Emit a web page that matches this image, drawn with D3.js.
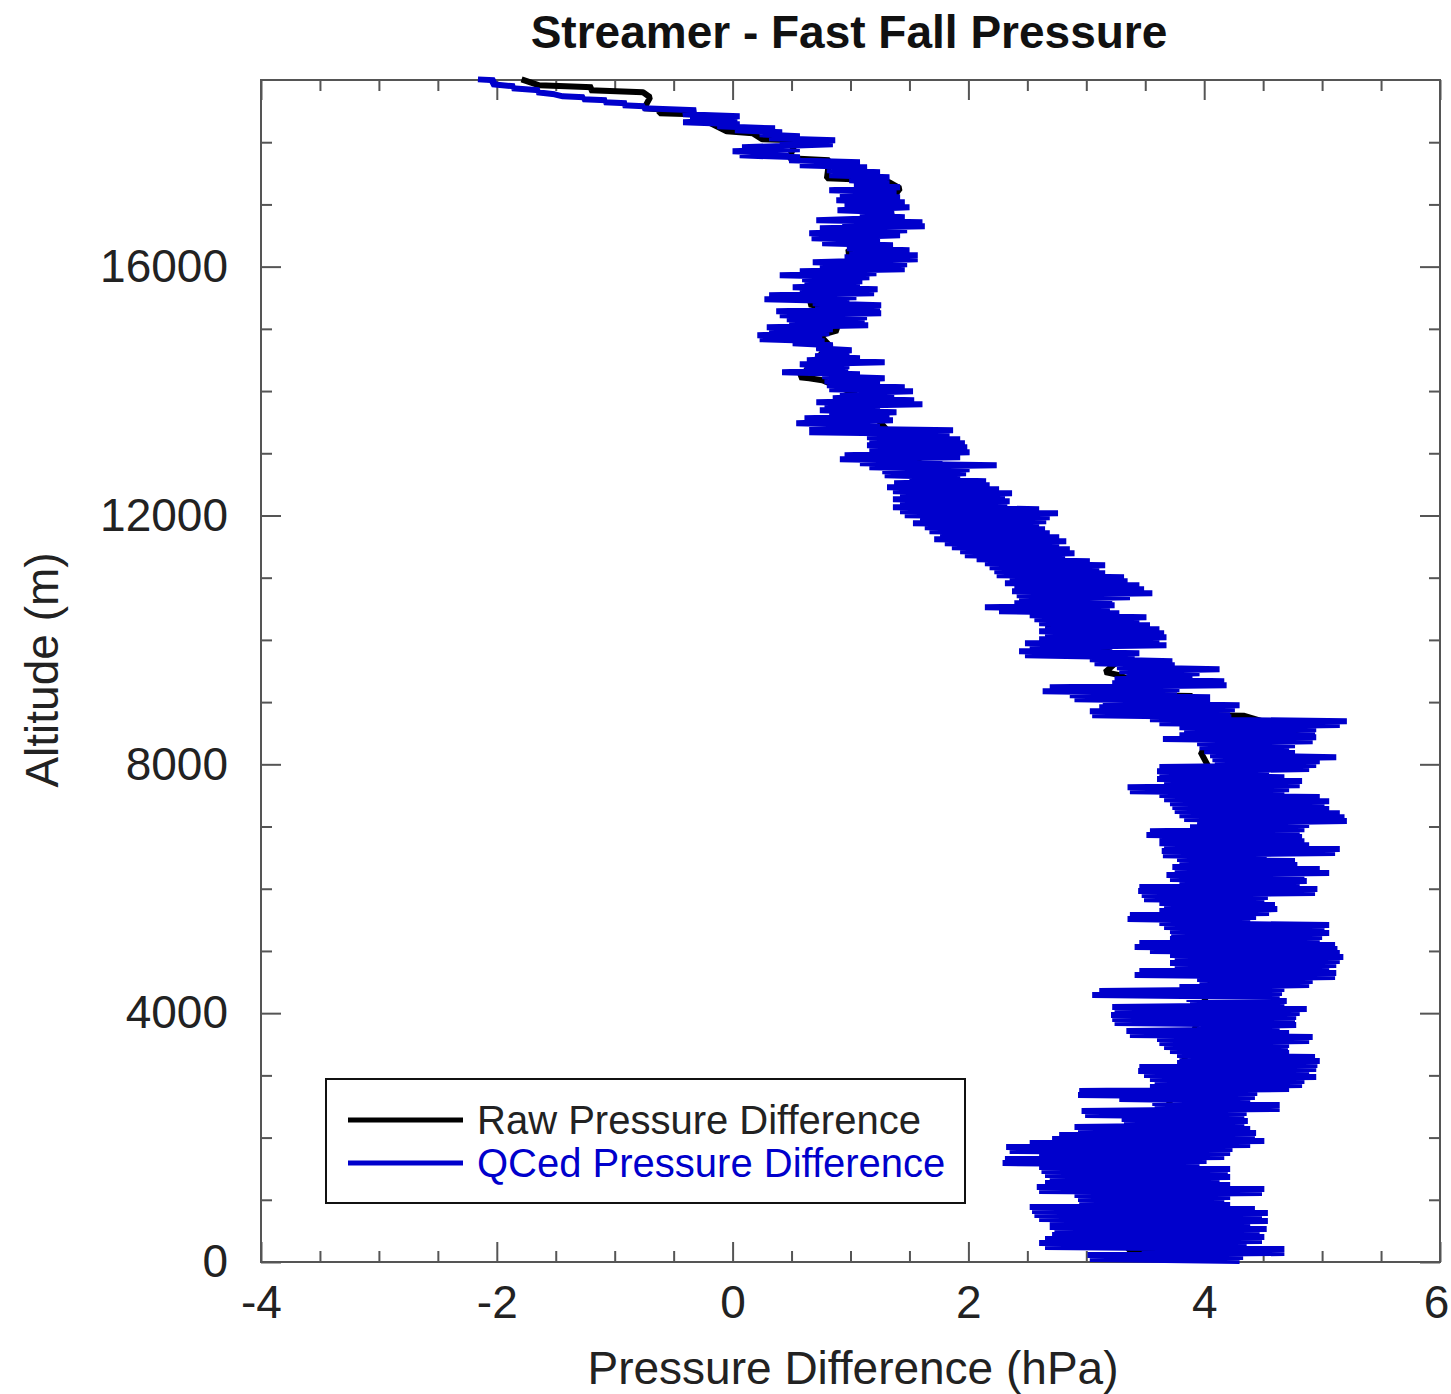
<!DOCTYPE html>
<html>
<head>
<meta charset="utf-8">
<script src="https://cdn.jsdelivr.net/npm/d3@7"></script>
<style>
  body { margin: 0; background: #fff; }
  svg text { font-family: "Liberation Sans", Arial, Helvetica, sans-serif; }
</style>
</head>
<body>
<div id="chart"></div>
<script>
// altitude (m), pressure difference (hPa), QCed profile top to bottom
var qcedProfile = [
  [19010,-2.16],[18995,-2.02],[18930,-2.04],[18898,-1.85],[18866,-1.87],[18834,-1.64],[18802,-1.66],
  [18770,-1.51],[18738,-1.44],[18722,-1.26],[18689,-1.27],[18673,-1.07],[18641,-1.09],[18625,-0.90],
  [18593,-0.93],[18577,-0.75],[18545,-0.76],[18513,-0.31],
  [18448,-0.42],[18416,0.06],[18384,-0.36],[18352,0.04],[18320,-0.42],[18288,0.06],[18255,-0.13],[18223,0.36],
  [18191,0.02],[18159,0.42],[18127,0.23],[18095,0.57],[18063,0.31],[18031,0.87],[17998,0.40],[17966,0.85],
  [17918,0.08],[17886,0.57],[17854,0.00],[17822,0.48],[17789,0.06],[17757,0.57],[17709,0.48],[17677,1.08],
  [17629,0.57],[17597,1.14],[17548,0.80],[17516,1.25],[17468,0.82],[17436,1.33],[17388,0.99],[17356,1.33],
  [17307,1.03],[17275,1.42],[17227,0.82],[17195,1.39],[17147,0.91],[17115,1.42],[17066,0.88],[17034,1.46],
  [16986,0.95],[16954,1.50],[16906,0.89],[16874,1.37],[16825,1.08],[16793,1.46],[16745,0.71],[16713,1.61],
  [16681,0.93],[16649,1.63],[16616,0.74],[16584,1.48],[16536,0.65],[16504,1.42],[16456,0.67],[16424,1.25],
  [16375,0.76],[16343,1.36],[16295,0.97],[16263,1.50],[16215,0.99],[16182,1.57],[16150,0.95],[16118,1.57],
  [16070,0.68],[16038,1.48],[15990,0.74],[15958,1.46],[15925,0.57],[15893,1.22],[15861,0.40],[15829,1.16],
  [15797,0.59],[15765,1.10],[15733,0.61],[15700,1.08],[15668,0.51],[15636,1.23],[15604,0.57],[15572,1.20],
  [15540,0.31],[15508,1.05],[15475,0.27],[15443,0.99],[15411,0.68],[15379,1.26],[15347,0.70],[15315,1.25],
  [15283,0.37],[15250,1.26],[15218,0.40],[15186,1.14],[15154,0.46],[15122,1.12],[15090,0.48],[15058,1.15],
  [15025,0.29],[14993,0.85],[14961,0.31],[14929,0.82],[14897,0.21],[14865,0.76],[14833,0.23],[14800,0.78],
  [14768,0.51],[14736,0.85],[14688,0.71],[14656,1.01],[14624,0.74],[14592,0.99],[14559,0.70],[14527,1.08],
  [14495,0.63],[14463,1.29],[14431,0.57],[14399,0.99],[14367,0.61],[14334,0.98],[14302,0.42],[14270,1.08],
  [14238,0.76],[14206,1.29],[14158,0.78],[14126,1.25],[14093,0.80],[14061,1.46],[14029,0.82],[13997,1.53],
  [13965,0.91],[13933,1.37],[13884,0.85],[13852,1.54],[13820,0.71],[13788,1.61],[13756,0.78],[13724,1.25],
  [13692,0.74],[13660,1.39],[13627,0.82],[13595,1.33],[13563,0.61],[13531,1.36],[13483,0.54],[13451,1.25],
  [13402,0.65],[13370,1.87],[13338,0.65],[13306,1.84],[13258,1.14],[13226,1.93],[13193,1.16],[13161,1.97],
  [13129,1.14],[13097,1.99],[13049,1.16],[13017,2.01],[12968,0.95],[12936,1.93],[12904,0.91],[12872,1.78],
  [12840,1.08],[12808,2.24],[12776,1.16],[12744,2.01],[12711,1.27],[12679,1.98],[12647,1.29],[12615,1.93],
  [12583,1.50],[12551,2.15],[12519,1.37],[12486,2.18],[12454,1.31],[12422,2.26],[12390,1.36],[12358,2.37],
  [12326,1.42],[12294,2.31],[12261,1.36],[12229,2.35],[12197,1.42],[12165,2.33],[12133,1.36],[12101,2.60],
  [12069,1.42],[12036,2.76],[12004,1.46],[11972,2.69],[11940,1.59],[11908,2.66],[11876,1.53],[11844,2.60],
  [11811,1.63],[11779,2.65],[11747,1.67],[11715,2.69],[11683,1.76],[11651,2.77],[11619,1.71],[11586,2.83],
  [11554,1.80],[11522,2.77],[11490,1.86],[11458,2.86],[11426,1.93],[11394,2.90],[11361,1.97],[11329,2.82],
  [11297,2.07],[11265,3.03],[11233,2.14],[11201,3.16],[11169,2.18],[11137,3.11],[11104,2.22],[11072,3.16],
  [11040,2.24],[11008,3.32],[10976,2.35],[10944,3.35],[10912,2.31],[10879,3.45],[10847,2.39],[10815,3.49],
  [10783,2.37],[10751,3.56],[10719,2.41],[10687,3.37],[10654,2.43],[10622,3.22],[10590,2.39],[10558,3.24],
  [10526,2.14],[10494,3.20],[10462,2.26],[10429,3.28],[10397,2.52],[10365,3.51],[10333,2.56],[10301,3.45],
  [10269,2.60],[10237,3.54],[10204,2.65],[10172,3.62],[10140,2.60],[10108,3.66],[10076,2.65],[10044,3.68],
  [10012,2.60],[9979,3.62],[9947,2.48],[9915,3.68],[9883,2.52],[9851,3.22],[9819,2.43],[9787,3.45],
  [9754,2.48],[9722,3.41],[9690,3.03],[9658,3.73],[9626,3.07],[9594,3.75],[9562,3.26],[9529,4.13],
  [9497,3.28],[9465,3.96],[9433,3.34],[9401,3.90],[9369,3.24],[9337,4.17],[9305,3.22],[9272,4.19],
  [9240,2.69],[9208,3.79],[9176,2.63],[9144,3.77],[9112,2.86],[9080,4.05],[9047,2.90],[9015,4.05],
  [8983,3.14],[8951,4.30],[8919,3.11],[8887,4.26],[8855,3.03],[8822,4.22],[8790,3.05],[8758,4.23],
  [8726,3.54],[8694,5.21],[8662,3.62],[8630,5.15],[8597,3.79],[8565,4.95],[8533,3.83],[8501,4.94],
  [8469,3.79],[8437,4.95],[8405,3.65],[8372,4.92],[8340,3.94],[8308,4.77],[8276,3.96],[8244,4.72],
  [8212,4.00],[8180,4.77],[8147,4.05],[8115,5.12],[8083,4.07],[8051,4.98],[8019,4.09],[7987,4.95],
  [7955,3.62],[7923,4.89],[7890,3.60],[7858,4.55],[7826,3.62],[7794,4.68],[7762,3.60],[7730,4.83],
  [7698,3.66],[7665,4.81],[7633,3.35],[7601,4.72],[7569,3.37],[7537,4.68],[7505,3.62],[7473,4.98],
  [7440,3.66],[7408,5.06],[7376,3.71],[7344,5.02],[7312,3.73],[7280,5.06],[7248,3.75],[7215,5.15],
  [7183,3.79],[7151,5.19],[7119,3.83],[7087,5.21],[7055,3.94],[7023,4.89],[6990,3.88],[6958,4.85],
  [6926,3.54],[6894,4.81],[6862,3.51],[6830,4.83],[6798,3.62],[6765,4.85],[6733,3.62],[6701,4.89],
  [6669,3.66],[6637,5.15],[6605,3.64],[6573,5.11],[6540,3.65],[6508,4.53],[6476,3.77],[6444,4.77],
  [6412,3.79],[6380,4.79],[6348,3.73],[6316,4.98],[6283,3.75],[6251,5.06],[6219,3.68],[6187,4.85],
  [6155,3.71],[6123,4.87],[6091,3.79],[6058,4.81],[6026,3.45],[5994,4.96],[5962,3.44],[5930,4.94],
  [5898,3.47],[5866,4.54],[5833,3.49],[5801,4.51],[5769,3.62],[5737,4.60],[5705,3.66],[5673,4.62],
  [5641,3.62],[5608,4.55],[5576,3.37],[5544,4.44],[5512,3.35],[5480,4.39],[5448,3.62],[5416,5.06],
  [5383,3.66],[5351,5.02],[5319,3.71],[5287,5.06],[5255,3.72],[5223,5.00],[5191,3.71],[5158,4.98],
  [5126,3.45],[5094,5.11],[5062,3.41],[5030,5.13],[4998,3.54],[4966,5.15],[4933,3.71],[4901,5.18],
  [4869,3.75],[4837,5.15],[4805,3.71],[4773,5.12],[4741,3.75],[4709,5.06],[4676,3.45],[4644,5.12],
  [4612,3.41],[4580,5.11],[4548,3.94],[4516,4.92],[4484,3.96],[4451,4.89],[4419,3.79],[4387,4.68],
  [4355,3.11],[4323,4.66],[4291,3.05],[4259,4.64],[4226,3.85],[4194,4.70],[4162,3.88],[4130,4.68],
  [4098,3.22],[4066,4.87],[4034,3.24],[4001,4.81],[3969,3.21],[3937,4.78],[3905,3.22],[3873,4.77],
  [3841,3.24],[3809,4.78],[3776,3.94],[3744,4.64],[3712,3.34],[3680,4.72],[3648,3.37],[3616,4.92],
  [3584,3.60],[3551,4.89],[3519,3.62],[3487,4.72],[3455,3.66],[3423,4.71],[3391,3.71],[3359,4.72],
  [3326,3.77],[3294,4.94],[3262,3.79],[3230,4.98],[3198,3.77],[3166,4.96],[3134,3.45],[3102,4.95],
  [3069,3.44],[3037,4.89],[3005,3.49],[2973,4.95],[2941,3.54],[2909,4.85],[2877,3.58],[2844,4.83],
  [2812,3.54],[2780,4.72],[2748,2.94],[2716,4.45],[2684,2.93],[2652,4.43],[2619,3.28],[2587,4.39],
  [2555,3.56],[2523,4.64],[2491,3.58],[2459,4.64],[2427,2.96],[2394,4.36],[2362,2.99],[2330,4.34],
  [2298,3.30],[2266,4.37],[2234,3.32],[2202,4.34],[2169,2.90],[2137,4.39],[2105,2.93],[2073,4.44],
  [2041,2.77],[2009,4.43],[1977,2.71],[1944,4.51],[1912,2.52],[1880,4.39],[1848,2.32],[1816,4.24],
  [1784,2.35],[1752,4.22],[1719,2.60],[1687,4.17],[1655,2.31],[1623,4.02],[1591,2.29],[1559,3.96],
  [1527,2.60],[1495,4.22],[1462,2.62],[1430,4.20],[1398,2.65],[1366,4.22],[1334,2.69],[1302,4.13],
  [1270,2.65],[1237,4.22],[1205,2.58],[1173,4.51],[1141,2.60],[1109,4.49],[1077,2.90],[1045,4.22],
  [1012,2.93],[980,4.17],[948,2.94],[916,4.22],[884,2.52],[852,4.43],[820,2.54],[787,4.54],
  [755,2.56],[723,4.49],[691,2.60],[659,4.54],[627,2.69],[595,4.39],[562,2.69],[530,4.53],
  [498,2.73],[466,4.47],[434,2.71],[402,4.51],[370,2.65],[337,4.49],[305,2.60],[273,4.36],
  [241,2.65],[209,4.68],[177,3.47],[145,4.68],[112,3.01],[80,4.33],[48,3.03],[16,4.30]
];

// raw profile, mostly hidden under the QCed line
var rawProfile = [
  [19011,-1.79],[18914,-1.64],[18882,-1.19],[18834,-1.21],[18802,-0.76],[18722,-0.70],[18545,-0.75],
  [18529,-0.62],[18464,-0.62],[18448,-0.34],[18175,-0.05],[18143,0.17],[18047,0.25],[18031,0.54],
  [17741,0.48],[17709,0.82],[17420,0.80],[17404,1.02],[17356,1.33],[17259,1.42],[16890,1.27],
  [16874,1.36],[16520,1.08],[16504,1.20],[16231,0.97],[16134,1.12],[15395,0.65],[15331,0.81],
  [15170,0.82],[14977,0.89],[14897,0.74],[14736,0.82],[14222,0.57],[14206,0.65],[14174,0.76],
  [13965,1.03],[12888,1.54],[12454,2.01],[12053,1.99],[11892,2.22],[11635,2.31],[11361,2.66],
  [10590,2.90],[10580,3.05],[10269,2.80],[10188,2.66],[10124,2.86],[9787,3.21],[9780,3.34],
  [9481,3.16],[9433,3.28],[9305,3.44],[9160,3.37],[9112,3.47],[9100,3.90],[8903,3.68],[8790,4.02],
  [8780,4.34],[8597,4.66],[8590,4.87],[8389,4.40],[8196,3.97],[7312,4.22],[7305,4.28],[6091,4.19],
  [5833,4.19],[5825,4.32],[5255,4.24],[4982,4.23],[4885,4.37],[4773,4.23],[4757,4.37],[4516,4.06],
  [2202,3.64],[1253,3.72],[1245,3.82],[948,3.34],[940,3.39],[209,3.35],[161,3.62],[155,3.71],[64,3.62]
];

var xMajorTicks = [-4, -2, 0, 2, 4, 6];
var xMinorTicks = [-3.5, -3, -2.5, -1.5, -1, -0.5, 0.5, 1, 1.5, 2.5, 3, 3.5, 4.5, 5, 5.5];
var yMajorTicks = [0, 4000, 8000, 12000, 16000];
var yMinorTicks = [1000, 2000, 3000, 5000, 6000, 7000, 9000, 10000, 11000, 13000, 14000, 15000, 17000, 18000];

var seriesNames = ["Raw Pressure Difference", "QCed Pressure Difference"];
var seriesColors = ["#000000", "#0000cc"];

(function() {
  var W = 1451, H = 1394;
  var plotLeft = 261, plotRight = 1440, plotTop = 80, plotBottom = 1262;
  var axisColor = "#555";

  var svg = d3.select("#chart").append("svg")
      .attr("width", W)
      .attr("height", H)
      .style("background", "#fff");

  var x = d3.scaleLinear().domain([-4, 6]).range([plotLeft, plotRight]);
  var y = d3.scaleLinear().domain([0, 19000]).range([plotBottom, plotTop]);

  var plain = function(d) { return String(d); };

  function styleAxis(g) {
    g.select(".domain").remove();
    g.selectAll(".tick line").attr("stroke", axisColor).attr("stroke-width", 2);
    g.selectAll(".tick text").attr("fill", "#222").style("font-size", "46px");
  }

  // major ticks with labels
  var xAxisG = svg.append("g")
      .attr("transform", "translate(0," + plotBottom + ")")
      .call(d3.axisBottom(x).tickValues(xMajorTicks).tickSize(-20).tickSizeOuter(0).tickPadding(23)
        .tickFormat(plain))
      .call(styleAxis);
  // last label sits at the window edge, keep it inside
  xAxisG.selectAll(".tick text").filter(function(d) { return d === 6; }).attr("dx", -4);

  svg.append("g")
      .attr("transform", "translate(" + plotLeft + ",0)")
      .call(d3.axisLeft(y).tickValues(yMajorTicks).tickSize(-20).tickSizeOuter(0).tickPadding(33)
        .tickFormat(plain))
      .call(styleAxis);

  // unlabelled ticks on all four sides
  var tickSets = [
    [d3.axisBottom(x).tickValues(xMinorTicks).tickSize(-11), "translate(0," + plotBottom + ")"],
    [d3.axisTop(x).tickValues(xMinorTicks).tickSize(-11), "translate(0," + plotTop + ")"],
    [d3.axisTop(x).tickValues(xMajorTicks).tickSize(-20), "translate(0," + plotTop + ")"],
    [d3.axisLeft(y).tickValues(yMinorTicks).tickSize(-11), "translate(" + plotLeft + ",0)"],
    [d3.axisRight(y).tickValues(yMinorTicks).tickSize(-11), "translate(" + plotRight + ",0)"],
    [d3.axisRight(y).tickValues(yMajorTicks).tickSize(-20), "translate(" + plotRight + ",0)"]
  ];
  tickSets.forEach(function(t) {
    svg.append("g")
        .attr("transform", t[1])
        .call(t[0].tickSizeOuter(0).tickFormat(""))
        .call(styleAxis);
  });

  svg.append("rect")
      .attr("x", plotLeft)
      .attr("y", plotTop)
      .attr("width", plotRight - plotLeft)
      .attr("height", plotBottom - plotTop)
      .attr("fill", "none")
      .attr("stroke", axisColor)
      .attr("stroke-width", 2);

  var line = d3.line()
      .x(function(d) { return x(d[1]); })
      .y(function(d) { return y(d[0]); });

  [rawProfile, qcedProfile].forEach(function(data, i) {
    svg.append("path")
        .datum(data)
        .attr("fill", "none")
        .attr("stroke", seriesColors[i])
        .attr("stroke-width", 6)
        .attr("stroke-linejoin", "bevel")
        .attr("d", line);
  });

  // titles
  svg.append("text")
      .attr("x", 849)
      .attr("y", 48)
      .attr("text-anchor", "middle")
      .style("font-size", "46px")
      .style("font-weight", "bold")
      .attr("fill", "#111")
      .text("Streamer - Fast Fall Pressure");

  svg.append("text")
      .attr("x", 853)
      .attr("y", 1384)
      .attr("text-anchor", "middle")
      .style("font-size", "46px")
      .attr("fill", "#222")
      .text("Pressure Difference (hPa)");

  svg.append("text")
      .attr("transform", "translate(58,670) rotate(-90)")
      .attr("text-anchor", "middle")
      .style("font-size", "46px")
      .attr("fill", "#222")
      .text("Altitude (m)");

  // legend
  var legend = svg.append("g");
  legend.append("rect")
      .attr("x", 326)
      .attr("y", 1079)
      .attr("width", 639)
      .attr("height", 124)
      .attr("fill", "#fff")
      .attr("stroke", "#111")
      .attr("stroke-width", 2);

  seriesNames.forEach(function(name, i) {
    var ly = 1120 + i * 43;
    legend.append("line")
        .attr("x1", 348).attr("x2", 463)
        .attr("y1", ly).attr("y2", ly)
        .attr("stroke", seriesColors[i])
        .attr("stroke-width", 5);
    legend.append("text")
        .attr("x", 477)
        .attr("y", ly + 14)
        .style("font-size", "40px")
        .attr("fill", i === 0 ? "#222" : "#0000cc")
        .text(name);
  });
})();
</script>
</body>
</html>
